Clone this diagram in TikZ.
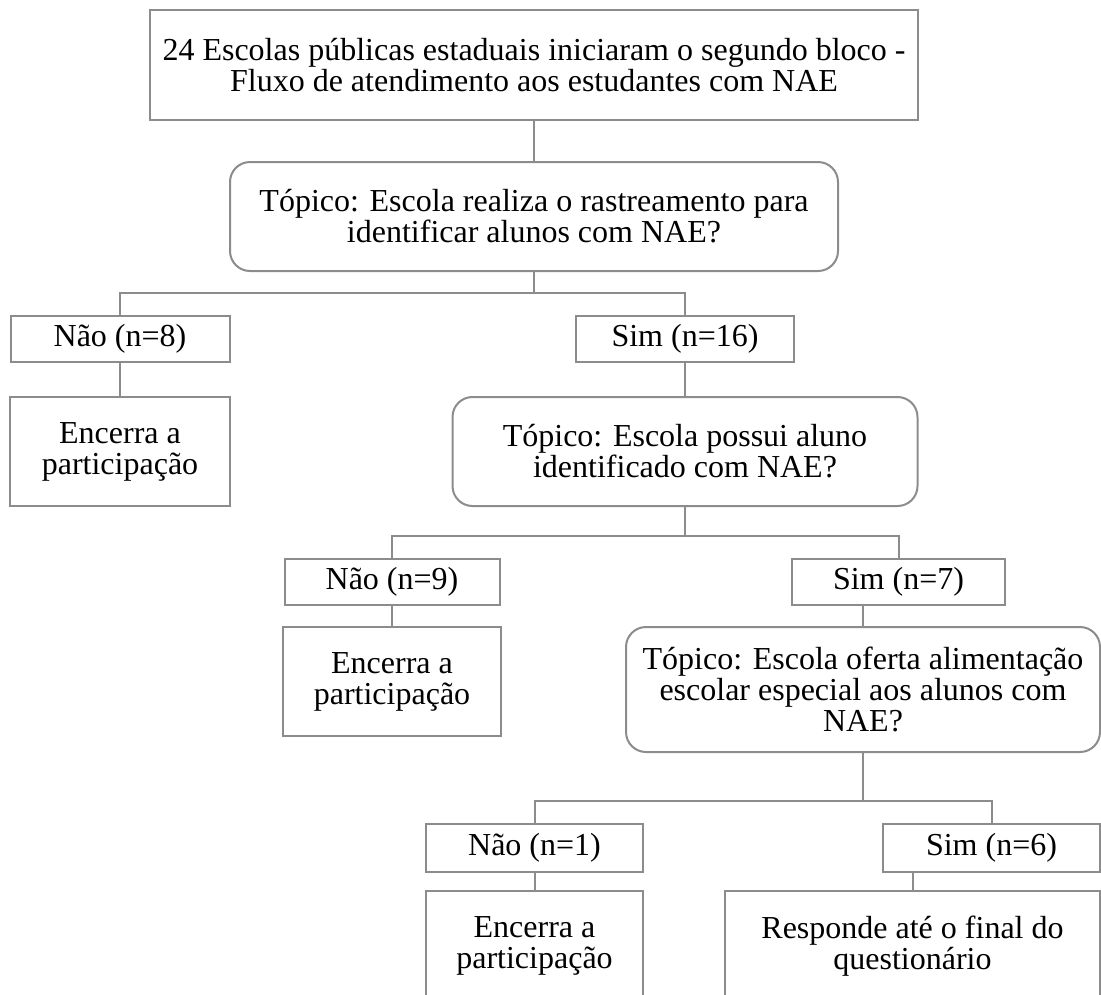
\documentclass[tikz,border=0pt]{standalone}
\usepackage{fontspec}
\setmainfont{Liberation Serif}
\definecolor{lc}{RGB}{140,140,140}
\begin{document}
\begin{tikzpicture}[x=1pt,y=-1pt,
  box/.style={draw=lc,line width=2pt,fill=white,align=center,inner sep=0pt,
    font=\fontsize{32}{31}\selectfont,anchor=center},
  rbox/.style={box,rounded corners=20pt},
  conn/.style={draw=lc,line width=2pt}]
\useasboundingbox (0,0) rectangle (1101,994);
\clip (0,0) rectangle (1101,994);
\node[box,minimum width=768pt,minimum height=110pt] (top) at (534,65)
  {24 Escolas públicas estaduais iniciaram o segundo bloco -\\Fluxo de atendimento aos estudantes com NAE};
\node[rbox,minimum width=608pt,minimum height=109pt] (q1) at (534,216.5)
  {Tópico: Escola realiza o rastreamento para\\identificar alunos com NAE?};
\node[box,minimum width=219pt,minimum height=46pt] (nao8) at (120,339) {Não (n=8)};
\node[box,minimum width=218pt,minimum height=46pt] (sim16) at (685,339) {Sim (n=16)};
\node[box,minimum width=220pt,minimum height=109pt] (enc1) at (120,451.5) {Encerra a\\participação};
\node[rbox,minimum width=465pt,minimum height=109pt] (q2) at (685,451.5)
  {Tópico: Escola possui aluno\\identificado com NAE?};
\node[box,minimum width=215pt,minimum height=46pt] (nao9) at (392,582) {Não (n=9)};
\node[box,minimum width=213pt,minimum height=46pt] (sim7) at (898.5,582) {Sim (n=7)};
\node[box,minimum width=218pt,minimum height=109pt] (enc2) at (392,681.5) {Encerra a\\participação};
\node[rbox,minimum width=474pt,minimum height=125pt] (q3) at (863,689.5)
  {Tópico: Escola oferta alimentação\\escolar especial aos alunos com\\NAE?};
\node[box,minimum width=217pt,minimum height=48pt] (nao1) at (534.5,848) {Não (n=1)};
\node[box,minimum width=217pt,minimum height=48pt] (sim6) at (991.5,848) {Sim (n=6)};
\node[box,minimum width=217pt,minimum height=110pt] (enc3) at (534.5,946) {Encerra a\\participação};
\node[box,minimum width=375pt,minimum height=110pt] (resp) at (912.5,946) {Responde até o final do\\questionário};
\coordinate (b1) at (534,293);
\coordinate (b2) at (685,536);
\coordinate (b3) at (863,801);
\draw[conn] (top.south) -- (q1.north);
\draw[conn] (q1.south) -- (b1) -| (nao8.north);
\draw[conn] (b1) -| (sim16.north);
\draw[conn] (nao8.south) -- (enc1.north);
\draw[conn] (sim16.south) -- (q2.north);
\draw[conn] (q2.south) -- (b2) -| (nao9.north);
\draw[conn] (b2) -| (sim7.north);
\draw[conn] (nao9.south) -- (enc2.north);
\draw[conn] (sim7.south -| q3.north) -- (q3.north);
\draw[conn] (q3.south) -- (b3) -| (nao1.north);
\draw[conn] (b3) -| (sim6.north);
\draw[conn] (nao1.south) -- (enc3.north);
\draw[conn] (sim6.south -| resp.north) -- (resp.north);
\end{tikzpicture}
\end{document}
